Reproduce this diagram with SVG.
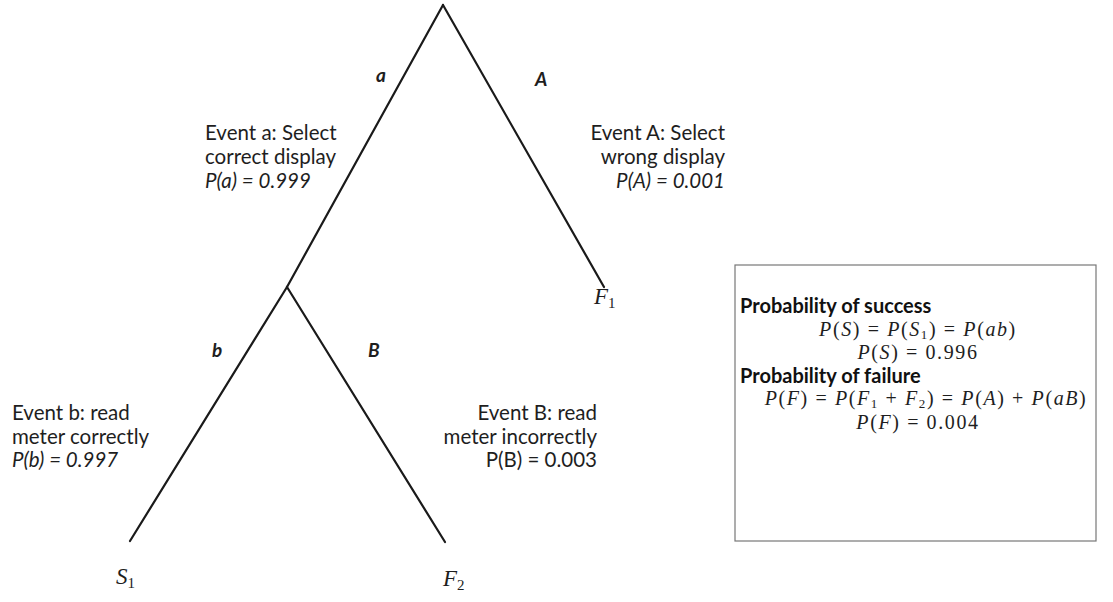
<svg xmlns="http://www.w3.org/2000/svg" width="1113" height="602" viewBox="0 0 1113 602">
  <style>
    .branch { stroke: #1a1a1a; stroke-width: 2.2; fill: none; stroke-linecap: round; }
    .lbl { font-family: Lato, "Liberation Sans", sans-serif; font-size: 20.5px; fill: #1e1e1e; }
    .ev { font-family: Lato, "Liberation Sans", sans-serif; font-size: 19px; fill: #1e1e1e; font-style: italic; font-weight: bold; }
    .prob { font-family: Lato, "Liberation Sans", sans-serif; font-size: 20.5px; fill: #1e1e1e; font-style: italic; }
    .end { font-family: "Liberation Serif", serif; font-size: 23px; font-style: italic; fill: #1e1e1e; }
    .sub { font-family: "Liberation Serif", serif; font-size: 15px; font-style: normal; fill: #1e1e1e; }
    .math { font-family: "Liberation Serif", serif; font-size: 20px; letter-spacing: 1.6px; fill: #1e1e1e; }
    .head { font-family: Lato, "Liberation Sans", sans-serif; font-size: 20px; font-weight: bold; fill: #111; }
  </style>

  <!-- tree branches -->
  <g id="connectors">
    <path class="branch" d="M443,5 L287,287"/>
    <path class="branch" d="M443,5 L604,287"/>
    <path class="branch" d="M287,287 L130,541"/>
    <path class="branch" d="M287,287 L445,542"/>
  </g>

  <!-- first branch: event a -->
  <g id="event-a">
    <text class="ev" x="376" y="82">a</text>
    <text class="lbl" x="205" y="140">Event a: Select</text>
    <text class="lbl" x="205" y="164">correct display</text>
    <text class="prob" x="205" y="188">P(a) = 0.999</text>
  </g>

  <!-- first branch: event A -->
  <g id="event-A">
    <text class="ev" x="535" y="86">A</text>
    <text class="lbl" x="725" y="140" text-anchor="end">Event A: Select</text>
    <text class="lbl" x="725" y="164" text-anchor="end">wrong display</text>
    <text class="prob" x="725" y="188" text-anchor="end">P(A) = 0.001</text>
  </g>

  <!-- second branch: event b -->
  <g id="event-b">
    <text class="ev" x="212" y="357">b</text>
    <text class="lbl" x="12" y="420">Event b: read</text>
    <text class="lbl" x="12" y="444">meter correctly</text>
    <text class="prob" x="12" y="467">P(b) = 0.997</text>
  </g>

  <!-- second branch: event B -->
  <g id="event-B">
    <text class="ev" x="368" y="357">B</text>
    <text class="lbl" x="597" y="420" text-anchor="end">Event B: read</text>
    <text class="lbl" x="597" y="444" text-anchor="end">meter incorrectly</text>
    <text class="lbl" x="597" y="467" text-anchor="end">P(B) = 0.003</text>
  </g>

  <!-- outcomes -->
  <g id="outcome-F1">
    <text class="end" x="594" y="304">F<tspan class="sub" dy="4">1</tspan></text>
  </g>
  <g id="outcome-S1">
    <text class="end" x="116" y="584">S<tspan class="sub" dy="4">1</tspan></text>
  </g>
  <g id="outcome-F2">
    <text class="end" x="443" y="586">F<tspan class="sub" dy="4">2</tspan></text>
  </g>

  <!-- summary box -->
  <g id="summary">
    <rect x="735" y="265" width="361" height="276" fill="#fff" stroke="#777" stroke-width="1.2"/>
    <text class="head" x="740" y="313">Probability of success</text>
    <text class="math" x="918" y="336" text-anchor="middle"><tspan font-style="italic">P</tspan>(<tspan font-style="italic">S</tspan>) = <tspan font-style="italic">P</tspan>(<tspan font-style="italic">S</tspan><tspan font-size="13" dy="3">1</tspan><tspan dy="-3">) = </tspan><tspan font-style="italic">P</tspan>(<tspan font-style="italic">ab</tspan>)</text>
    <text class="math" x="918" y="359" text-anchor="middle"><tspan font-style="italic">P</tspan>(<tspan font-style="italic">S</tspan>) = 0.996</text>
    <text class="head" x="740" y="383">Probability of failure</text>
    <text class="math" x="926" y="405" text-anchor="middle"><tspan font-style="italic">P</tspan>(<tspan font-style="italic">F</tspan>) = <tspan font-style="italic">P</tspan>(<tspan font-style="italic">F</tspan><tspan font-size="13" dy="3">1</tspan><tspan dy="-3"> + </tspan><tspan font-style="italic">F</tspan><tspan font-size="13" dy="3">2</tspan><tspan dy="-3">) = </tspan><tspan font-style="italic">P</tspan>(<tspan font-style="italic">A</tspan>) + <tspan font-style="italic">P</tspan>(<tspan font-style="italic">aB</tspan>)</text>
    <text class="math" x="918" y="429" text-anchor="middle"><tspan font-style="italic">P</tspan>(<tspan font-style="italic">F</tspan>) = 0.004</text>
  </g>
</svg>
